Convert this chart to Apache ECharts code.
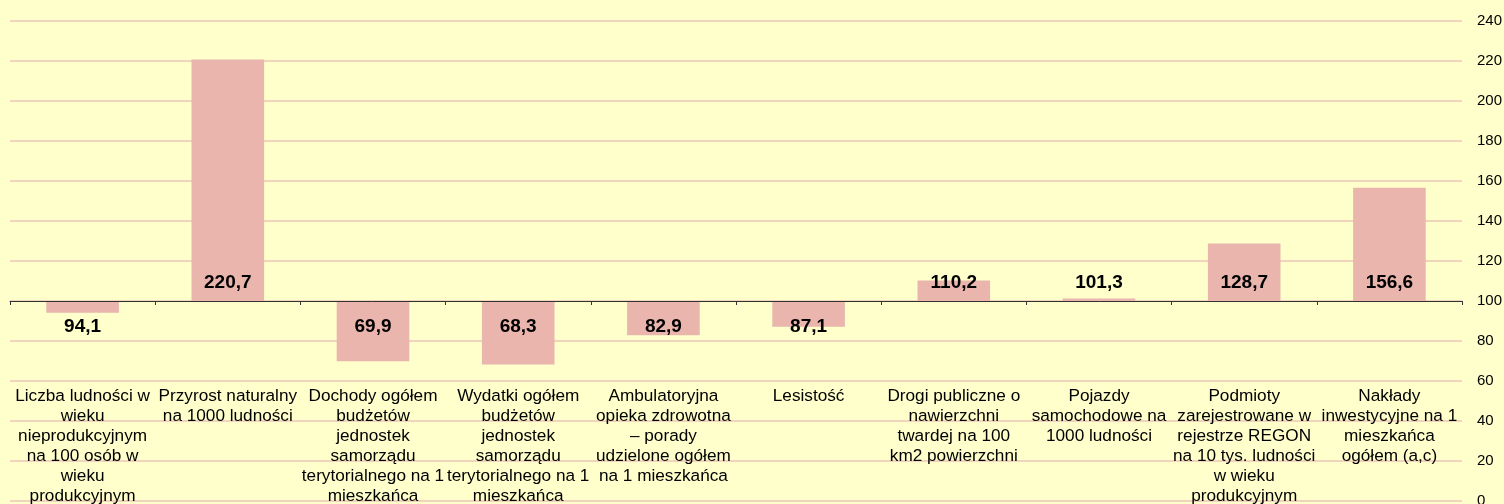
<!DOCTYPE html>
<html>
<head>
<meta charset="utf-8">
<script src="https://cdn.jsdelivr.net/npm/echarts@6/dist/echarts.min.js"></script>
<style>
html,body{margin:0;padding:0;background:#FFFFCC;}
#c{width:1504px;height:504px;}
</style>
</head>
<body>
<div id="c"></div>
<script>
var categories = [
  "Liczba ludności w\nwieku\nnieprodukcyjnym\nna 100 osób w\nwieku\nprodukcyjnym",
  "Przyrost naturalny\nna 1000 ludności",
  "Dochody ogółem\nbudżetów\njednostek\nsamorządu\nterytorialnego na 1\nmieszkańca",
  "Wydatki ogółem\nbudżetów\njednostek\nsamorządu\nterytorialnego na 1\nmieszkańca",
  "Ambulatoryjna\nopieka zdrowotna\n– porady\nudzielone ogółem\nna 1 mieszkańca",
  "Lesistość",
  "Drogi publiczne o\nnawierzchni\ntwardej na 100\nkm2 powierzchni",
  "Pojazdy\nsamochodowe na\n1000 ludności",
  "Podmioty\nzarejestrowane w\nrejestrze REGON\nna 10 tys. ludności\nw wieku\nprodukcyjnym",
  "Nakłady\ninwestycyjne na 1\nmieszkańca\nogółem (a,c)"
];
var values = [94.1, 220.7, 69.9, 68.3, 82.9, 87.1, 110.2, 101.3, 128.7, 156.6];
var baseline = 100;
var yMin = 0, yMax = 240, yStep = 20;

var fmt = function (v) { return v.toFixed(1).replace('.', ','); };

var seriesData = values.map(function (v) {
  var neg = v < baseline;
  return {
    value: v - baseline,
    label: {
      position: neg ? 'insideTop' : 'insideBottom',
      distance: neg ? 16 : 9
    }
  };
});

var chart = echarts.init(document.getElementById('c'));
chart.setOption({
  backgroundColor: '#FFFFCC',
  animation: false,
  grid: { left: 10, right: 42, top: 21, bottom: 3, containLabel: false, outerBoundsMode: 'none' },
  xAxis: [
    {
      type: 'category',
      data: categories,
      position: 'bottom',
      boundaryGap: true,
      z: 5,
      axisLine: { show: true, onZero: true, lineStyle: { color: '#333333', width: 1 } },
      axisTick: { show: true, interval: 0, length: 4, lineStyle: { color: '#333333' } },
      axisLabel: { show: false },
      splitLine: { show: false }
    },
    {
      type: 'category',
      data: categories,
      position: 'bottom',
      offset: -117,
      axisLine: { show: false, onZero: false },
      axisTick: { show: false },
      axisLabel: {
        show: true, interval: 0, margin: 2,
        fontFamily: 'Liberation Sans, Arial, sans-serif',
        fontSize: 17.2, lineHeight: 20, color: '#000000', align: 'center'
      },
      splitLine: { show: false }
    }
  ],
  yAxis: {
    type: 'value',
    position: 'right',
    min: yMin - baseline,
    max: yMax - baseline,
    interval: yStep,
    axisLine: { show: false },
    axisTick: { show: false },
    axisLabel: {
      margin: 15, fontSize: 15, color: '#000000',
      fontFamily: 'Liberation Sans, Arial, sans-serif',
      formatter: function (v) { return String(v + baseline); }
    },
    splitLine: { show: true, lineStyle: { color: '#F2D3BC', width: 2 } }
  },
  series: [{
    type: 'bar',
    xAxisIndex: 0,
    data: seriesData,
    barWidth: '50%',
    itemStyle: { color: '#E9B5AD' },
    label: {
      show: true,
      fontFamily: 'Liberation Sans, Arial, sans-serif',
      fontWeight: 'bold',
      fontSize: 19,
      color: '#000000',
      formatter: function (p) { return fmt(p.value + baseline); }
    }
  }]
});
</script>
</body>
</html>
